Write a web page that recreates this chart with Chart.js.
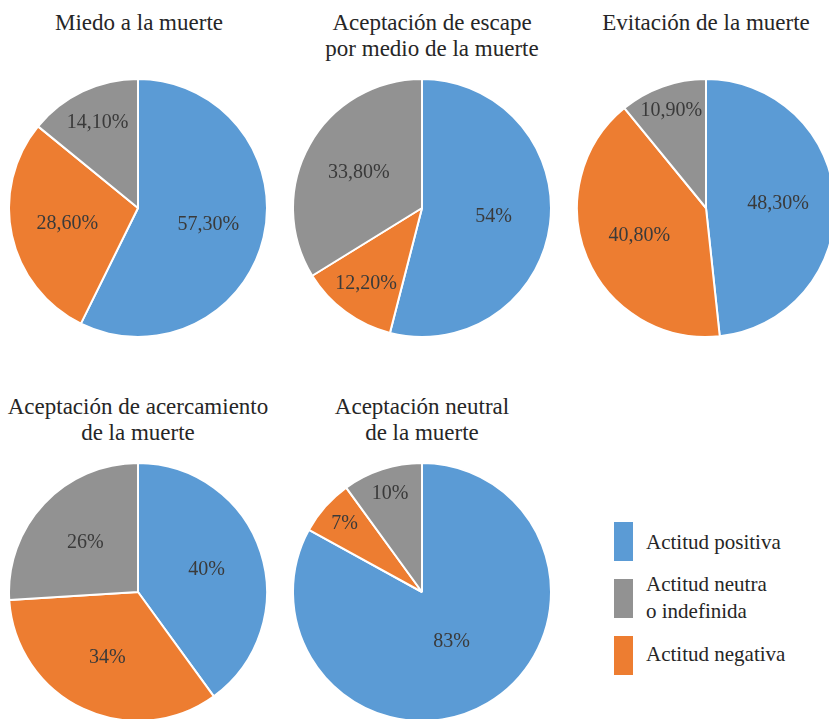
<!DOCTYPE html>
<html>
<head>
<meta charset="utf-8">
<script src="https://cdn.jsdelivr.net/npm/chart.js@4"></script>
<style>
html,body{margin:0;padding:0;background:#fff;overflow:hidden}
body{width:829px;height:719px;position:relative;font-family:"Liberation Serif","DejaVu Serif",serif;color:#262626}
.pie{position:absolute;width:260px;height:260px}
.title{position:absolute;width:320px;text-align:center;font-size:23px;line-height:26px;white-space:pre-line}
.lg{position:absolute;left:614px;width:215px}
.lg .box{position:absolute;left:0;width:19px;height:39px}
.lg .txt{position:absolute;left:32px;font-size:21px;white-space:pre-line;color:#262626}
</style>
</head>
<body>

<script>
// order of slices (clockwise from 12 o'clock)
const categories =
["Actitud positiva","Actitud negativa","Actitud neutra\no indefinida"]

const colors =
["#5b9bd5","#ed7d31","#929292"]

const titles = [
"Miedo a la muerte",
"Aceptación de escape\npor medio de la muerte",
"Evitación de la muerte",
"Aceptación de acercamiento\nde la muerte",
"Aceptación neutral\nde la muerte"
]

const miedo = [57.3,28.6,14.1]
const escape = [54,12.2,33.8]
const evitacion = [48.3,40.8,10.9]
const acercamiento = [40,34,26]
const neutral = [83,7,10]

const series = [miedo,escape,evitacion,acercamiento,neutral]

// legend shows positiva, neutra, negativa
const legendOrder = [0,2,1]

// layout: pie centres and title spots
const centers = [[138,208],[422,208],[706,208],[138,592],[422,592]]
const titleSpots = [[139,10],[432,10],[706,10],[138,394],[422,394]]

function fmt(v){
if(Number.isInteger(v)) return v+"%"
return v.toFixed(2).replace(".",",")+"%"
}

// small slices get their label pushed out towards the rim
function labelRadius(v){
if(v < 12) return 0.8
if(v < 20) return 0.73
if(v > 75) return 0.45
return 0.56
}

const valueLabels = {
id:"valueLabels",
afterDatasetsDraw(chart){
const c = chart.ctx
const meta = chart.getDatasetMeta(0)
const vals = chart.data.datasets[0].data
c.save()
c.font = "20px 'Liberation Serif'"
c.fillStyle = "#3a3a3a"
c.textAlign = "center"
c.textBaseline = "middle"
meta.data.forEach((arc,i)=>{
const p = arc.getProps(["x","y","startAngle","endAngle","outerRadius"],true)
const mid = (p.startAngle+p.endAngle)/2
const f = labelRadius(vals[i])
c.fillText(fmt(vals[i]), p.x+Math.cos(mid)*p.outerRadius*f, p.y+Math.sin(mid)*p.outerRadius*f)
})
c.restore()
}
}

series.forEach((vals,k)=>{

const cv = document.createElement("canvas")
cv.className = "pie"
cv.width = 260
cv.height = 260
cv.style.left = (centers[k][0]-130)+"px"
cv.style.top = (centers[k][1]-130)+"px"
document.body.appendChild(cv)

const t = document.createElement("div")
t.className = "title"
t.textContent = titles[k]
t.style.left = (titleSpots[k][0]-160)+"px"
t.style.top = titleSpots[k][1]+"px"
document.body.appendChild(t)

new Chart(cv,{
type:"pie",
data:{
labels:categories,
datasets:[{
data:vals,
backgroundColor:colors,
borderColor:"#ffffff",
borderWidth:2,
hoverOffset:0
}]
},
options:{
responsive:false,
animation:false,
events:[],
layout:{padding:0},
plugins:{
legend:{display:false},
tooltip:{enabled:false}
}
},
plugins:[valueLabels]
})

})

// legend
const lg = document.createElement("div")
lg.className = "lg"
lg.style.top = "522px"
document.body.appendChild(lg)

const rows = [
{box:0,txt:7,lh:26},
{box:57,txt:49,lh:27},
{box:114,txt:119,lh:26}
]

legendOrder.forEach((idx,r)=>{
const b = document.createElement("div")
b.className = "box"
b.style.top = rows[r].box+"px"
b.style.background = colors[idx]
lg.appendChild(b)
const tx = document.createElement("div")
tx.className = "txt"
tx.style.top = rows[r].txt+"px"
tx.style.lineHeight = rows[r].lh+"px"
tx.textContent = categories[idx]
lg.appendChild(tx)
})
</script>
</body>
</html>
